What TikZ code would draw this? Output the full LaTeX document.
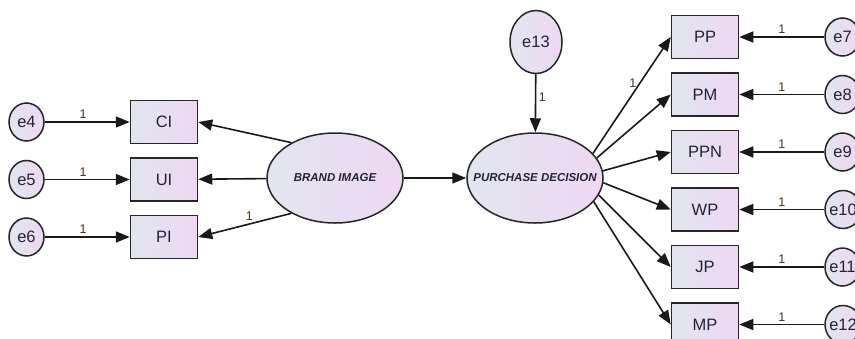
\documentclass[tikz,border=0pt]{standalone}
\usepackage{fontspec}
\setmainfont{Liberation Sans}
\usetikzlibrary{shapes.geometric, arrows.meta, positioning}
\definecolor{amosleft}{RGB}{226,229,240}
\definecolor{amosright}{RGB}{238,216,242}
\definecolor{labelbrown}{RGB}{70,45,20}
\definecolor{inktext}{RGB}{35,35,55}

\begin{document}
\begin{tikzpicture}[
      x=1pt, y=-1pt,
      node distance=13pt and 85pt,
      obs/.style={rectangle, draw=black!85, line width=1.5pt, left color=amosleft, right color=amosright, minimum width=67pt, minimum height=43pt, font=\fontsize{16.5}{19}\selectfont, text=inktext},
      err/.style={ellipse, draw=black!85, line width=1.5pt, left color=amosleft, right color=amosright, minimum width=35pt, minimum height=38pt, inner sep=-1pt, font=\fontsize{16.5}{19}\selectfont, text=inktext},
      latent/.style={ellipse, draw=black!85, line width=1.5pt, left color=amosleft, right color=amosright, minimum width=136pt, minimum height=90pt, inner xsep=-14pt, inner ysep=0pt, font=\fontsize{11.5}{13}\selectfont\bfseries\itshape, text=inktext},
      arr/.style={-{Triangle[length=14pt,width=11pt]}, line width=1.6pt, black!90},
      wt/.style={font=\fontsize{12.5}{14}\selectfont, text=labelbrown, inner sep=2.5pt},
    ]
    \useasboundingbox (0,0) rectangle (855,338);

    % brand image side
    \node[obs] (CI) at (164,122) {CI};
    \node[obs, below=of CI] (UI) {UI};
    \node[obs, below=of UI] (PI) {PI};
    \node[err, left=of CI] (e4) {e4};
    \node[err, left=of UI] (e5) {e5};
    \node[err, left=of PI] (e6) {e6};
    \node[latent] (BI) at (335,178) {BRAND IMAGE};

    % purchase decision side
    \node[latent] (PD) at (535,178) {PURCHASE DECISION};
    \node[err, minimum width=52pt, minimum height=63pt] (e13) at (536,42) {e13};
    \node[obs] (PP) at (705,37) {PP};
    \node[obs, below=of PP] (PM) {PM};
    \node[obs, below=of PM] (PPN) {PPN};
    \node[obs, below=of PPN] (WP) {WP};
    \node[obs, below=of WP] (JP) {JP};
    \node[obs, below=of JP] (MP) {MP};
    \node[err, right=of PP] (e7) {e7};
    \node[err, right=of PM] (e8) {e8};
    \node[err, right=of PPN] (e9) {e9};
    \node[err, right=of WP] (e10) {e10};
    \node[err, right=of JP] (e11) {e11};
    \node[err, right=of MP] (e12) {e12};

    \draw[arr] (e4) -- node[wt, above, pos=.45] {1} (CI);
    \draw[arr] (e5) -- node[wt, above, pos=.45] {1} (UI);
    \draw[arr] (e6) -- node[wt, above, pos=.45] {1} (PI);
    \draw[arr] (BI.141) -- (CI.east);
    \draw[arr] (BI) -- (UI);
    \draw[arr] (BI.219) -- node[wt, above, pos=.45] {1} (PI.east);
    \draw[arr] (BI) -- (PD);

    \draw[arr] (e13) -- node[wt, right, pos=.4] {1} (PD);
    \draw[arr] (PD.23) -- node[wt, left, pos=.6] {1} (PP.west);
    \draw[arr] (PD.18) -- (PM.west);
    \draw[arr] (PD.6) -- (PPN.west);
    \draw[arr] (PD.-4) -- (WP.west);
    \draw[arr] (PD.-15) -- (JP.west);
    \draw[arr] (PD.-22) -- (MP.west);
    \draw[arr] (e7) -- node[wt, above] {1} (PP);
    \draw[arr] (e8) -- node[wt, above] {1} (PM);
    \draw[arr] (e9) -- node[wt, above] {1} (PPN);
    \draw[arr] (e10) -- node[wt, above] {1} (WP);
    \draw[arr] (e11) -- node[wt, above] {1} (JP);
    \draw[arr] (e12) -- node[wt, above] {1} (MP);
  \end{tikzpicture}
\end{document}
